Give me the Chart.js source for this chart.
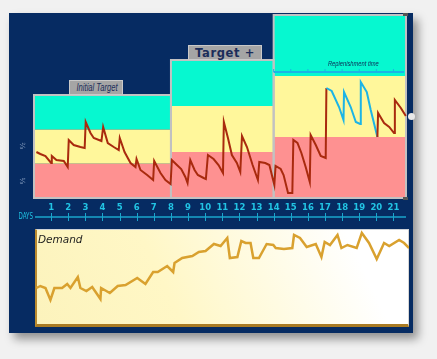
<!DOCTYPE html>
<html><head><meta charset="utf-8">
<script src="https://cdn.jsdelivr.net/npm/chart.js@4"></script>
<style>
html,body{margin:0;padding:0}
body{width:437px;height:359px;background:#f1f1f1;position:relative;overflow:hidden;font-family:"DejaVu Sans",sans-serif}
.abs{position:absolute}
#bg{left:9px;top:13px;width:404px;height:320px;background:#062b62;box-shadow:5px 6px 9px rgba(0,0,0,0.4)}
#demBox{left:35px;top:229px;width:374px;height:98px;box-sizing:border-box;border-left:2px solid #b98a2e;border-bottom:3px solid #a97b24;border-top:1px solid #cfd3d8;border-right:1px solid #d6d6d6;background:linear-gradient(65deg,#fcf3bc 0%,#fff7c6 35%,#fffbe2 60%,#ffffff 85%)}
.tag{background:#a5a5a5;border:1px solid #c9c9c9;box-sizing:border-box;color:#1b2d5a;text-align:center;white-space:nowrap}
</style></head>
<body>
<div id="bg" class="abs"></div>
<div id="demBox" class="abs"></div>
<canvas id="top" class="abs" style="left:0;top:0" width="437" height="230"></canvas>
<canvas id="dem" class="abs" style="left:0;top:225px" width="437" height="110"></canvas>

<div class="abs tag" style="left:69px;top:80px;width:54px;height:15px;font:italic 10px 'Liberation Sans',sans-serif;line-height:14px"><span style="display:inline-block;transform:scaleX(0.76)">Initial Target</span></div>
<div class="abs tag" style="left:188px;top:45px;width:74px;height:15px;font:bold 11.5px 'DejaVu Sans',sans-serif;line-height:14px;letter-spacing:0.6px">Target +</div>
<div class="abs" style="left:318px;top:59px;width:68px;text-align:center;color:#0c2a55;font:italic 8px 'Liberation Sans',sans-serif;white-space:nowrap"><span style="display:inline-block;transform:scaleX(0.72)">Replenishment time</span></div>
<div class="abs" style="left:12px;top:211px;width:28px;text-align:center;color:#1fc2e2;font:9px 'DejaVu Sans',sans-serif"><span style="display:inline-block;transform:scaleX(0.62)">DAYS</span></div>
<div class="abs" style="left:38px;top:233px;color:#1d1d1d;font:italic 10.5px 'DejaVu Sans',sans-serif">Demand</div>
<div class="abs" style="left:15px;top:142px;width:14px;text-align:center;color:#93a9c8;font:7px 'DejaVu Sans',sans-serif;transform:rotate(90deg)">⅔</div>
<div class="abs" style="left:15px;top:177px;width:14px;text-align:center;color:#93a9c8;font:7px 'DejaVu Sans',sans-serif;transform:rotate(90deg)">⅓</div>
<div class="abs" style="left:403px;top:13px;width:5px;height:3px;background:#555"></div>
<div class="abs" style="left:403px;top:197px;width:5px;height:3px;background:#555"></div>
<div class="abs" style="left:408px;top:113px;width:7px;height:7px;border-radius:50%;background:#e8e8e8"></div>

<script>
// ---- data ----
const dayTicks = [1,2,3,4,5,6,7,8,9,10,11,12,13,14,15,16,17,18,19,20,21];
const panelStart = [0, 8, 14];
const panelEnd = [8, 14, 21.73];
const panelTarget = [103, 138, 183];
const replenishDays = [14,15,16,17,18,19,20,21];

const stockDays = [0.14,0.37,0.67,1.0,1.04,1.31,1.74,1.97,2.03,2.32,2.71,2.96,3.02,3.30,3.49,3.94,4.04,4.31,4.66,4.95,5.01,5.29,5.64,5.93,5.99,6.22,6.61,6.96,7.02,7.39,7.68,7.98,
  8.05,8.35,8.6,8.84,8.97,9.13,9.38,9.57,9.91,10.04,10.16,10.49,10.78,11.04,11.09,11.33,11.56,11.85,12.05,12.15,12.44,12.77,13.08,13.16,13.51,13.75,14.04,
  14.11,14.41,14.58,14.84,15.09,15.15,15.39,15.62,15.87,16.11,16.16,16.46,16.75,17.04,17.08,17.39,17.82,18.08,18.11,18.5,18.8,19.05,19.09,19.44,19.67,20.06,20.1,20.45,20.75,21.03,21.08,21.43,21.72];
const stockLevel = [46,44,42,35,42,38,37,31,58,53,51,50,76,65,60,57,71,55,51,48,60,46,35,31,39,28,23,18,37,25,18,14,
  38,33,29,21,15,38,28,23,20,19,43,39,33,25,76,60,43,35,26,62,51,33,18,36,35,33,13,
  32,29,23,5,5,58,55,45,31,16,63,53,42,40,110,107,91,78,106,91,76,74,116,106,88,61,85,75,71,65,98,90,82];
const replenishFrom = 17.05, replenishTo = 20.07;

const demandDays = [0.14,0.37,0.67,0.96,1.19,1.64,1.94,2.13,2.56,2.71,3.06,3.40,3.88,3.92,4.43,4.89,5.35,6.03,6.51,6.96,7.23,7.78,8.13,8.21,8.66,9.25,9.63,10.02,10.51,10.9,11.29,11.44,11.88,12.11,12.36,12.65,12.81,13.14,13.59,13.98,14.12,14.6,15.09,15.19,15.54,15.93,16.46,16.79,16.98,17.29,17.73,17.96,18.31,18.85,19.15,19.57,20.02,20.45,20.75,21.33,21.62,21.91];
const demandValues = [38,40,38,26,38,38,42,38,49,38,35,39,27,38,33,40,41,48,42,54,54,60,54,63,68,70,74,75,82,80,88,68,69,85,83,83,68,68,82,81,78,77,78,91,88,79,82,69,84,81,91,78,81,78,93,83,67,83,80,86,83,78];

// ---- colours ----
const RED_BAND = '#fe9191', YEL_BAND = '#fff79b', CYAN_BAND = '#06f8d0';
const STOCK = '#a92a0e', REPL = '#1cb4e6';

const bandsPlugin = {
  id: 'bands',
  beforeDatasetsDraw(chart) {
    const {ctx, scales:{x, y}} = chart;
    ctx.save();
    for (let i = 0; i < panelStart.length; i++) {
      const x0 = x.getPixelForValue(panelStart[i]), x1 = x.getPixelForValue(panelEnd[i]);
      const t = panelTarget[i];
      const yb = y.getPixelForValue(0), y1 = y.getPixelForValue(t/3), y2 = y.getPixelForValue(2*t/3), yt = y.getPixelForValue(t);
      ctx.fillStyle = RED_BAND; ctx.fillRect(x0, y1, x1-x0, yb-y1);
      ctx.fillStyle = YEL_BAND; ctx.fillRect(x0, y2, x1-x0, y1-y2);
      ctx.fillStyle = CYAN_BAND; ctx.fillRect(x0, yt, x1-x0, y2-yt);
    }
    ctx.strokeStyle = '#c2c2c2'; ctx.lineWidth = 2;
    for (let i = 0; i < panelStart.length; i++) {
      const x0 = x.getPixelForValue(panelStart[i]), x1 = x.getPixelForValue(panelEnd[i]);
      const yb = y.getPixelForValue(0), yt = y.getPixelForValue(panelTarget[i]);
      ctx.strokeRect(x0, yt, x1-x0, yb-yt);
    }
    // replenishment time line
    const ry = y.getPixelForValue(126);
    ctx.strokeStyle = REPL; ctx.lineWidth = 2;
    ctx.beginPath();
    ctx.moveTo(x.getPixelForValue(replenishDays[0]), ry);
    ctx.lineTo(x.getPixelForValue(panelEnd[2]) - 2, ry);
    ctx.stroke();
    ctx.lineWidth = 1;
    replenishDays.forEach(d => {
      const px = x.getPixelForValue(d);
      ctx.beginPath(); ctx.moveTo(px, ry); ctx.lineTo(px, ry-3); ctx.stroke();
    });
    ctx.restore();
  },
  afterDraw(chart) {
    const {ctx, scales:{x}} = chart;
    const ay = chart.chartArea.bottom + 19;
    ctx.save();
    ctx.strokeStyle = '#1aa6cc'; ctx.lineWidth = 1.5;
    ctx.beginPath();
    ctx.moveTo(x.getPixelForValue(0) + 1, ay);
    ctx.lineTo(x.getPixelForValue(panelEnd[2]), ay);
    ctx.stroke();
    ctx.lineWidth = 1;
    dayTicks.forEach(d => {
      const px = Math.round(x.getPixelForValue(d)) + 0.5;
      ctx.beginPath(); ctx.moveTo(px, ay-4); ctx.lineTo(px, ay+4); ctx.stroke();
    });
    ctx.restore();
  }
};

const PADL = 34, PADR = 28.1, XMAX = 21.9;

new Chart(document.getElementById('top'), {
  type: 'line',
  data: { datasets: [{
    data: stockDays.map((d,i) => ({x:d, y:stockLevel[i]})),
    borderColor: STOCK, borderWidth: 2, pointRadius: 0, tension: 0,
    segment: { borderColor: c => (c.p0.parsed.x >= replenishFrom && c.p1.parsed.x <= replenishTo) ? REPL : STOCK }
  }]},
  options: {
    responsive: false, animation: false, events: [],
    layout: { padding: { left: PADL, right: PADR, top: 15, bottom: 12 } },
    plugins: { legend: {display:false}, tooltip: {enabled:false} },
    scales: {
      x: { type:'linear', min:0, max:XMAX,
        afterBuildTicks: s => { s.ticks = dayTicks.map(v => ({value:v})); },
        afterFit: s => { s.height = 20; },
        grid: {display:false, drawTicks:false, tickLength:0}, border: {display:false},
        ticks: { color:'#22c4e4', font:{size:8.5, weight:'bold', family:'DejaVu Sans'}, padding:5, maxRotation:0, autoSkip:false }
      },
      y: { display:false, min:0, max:183 }
    }
  },
  plugins: [bandsPlugin]
});

new Chart(document.getElementById('dem'), {
  type: 'line',
  data: { datasets: [{
    data: demandDays.map((d,i) => ({x:d, y:demandValues[i]})),
    borderColor: '#d9a12f', borderWidth: 2.5, pointRadius: 0, tension: 0
  }]},
  options: {
    responsive: false, animation: false, events: [],
    layout: { padding: { left: PADL, right: PADR, top: 4, bottom: 9 } },
    plugins: { legend: {display:false}, tooltip: {enabled:false} },
    scales: {
      x: { type:'linear', display:false, min:0, max:XMAX },
      y: { display:false, min:0, max:97 }
    }
  }
});
</script>
</body></html>
